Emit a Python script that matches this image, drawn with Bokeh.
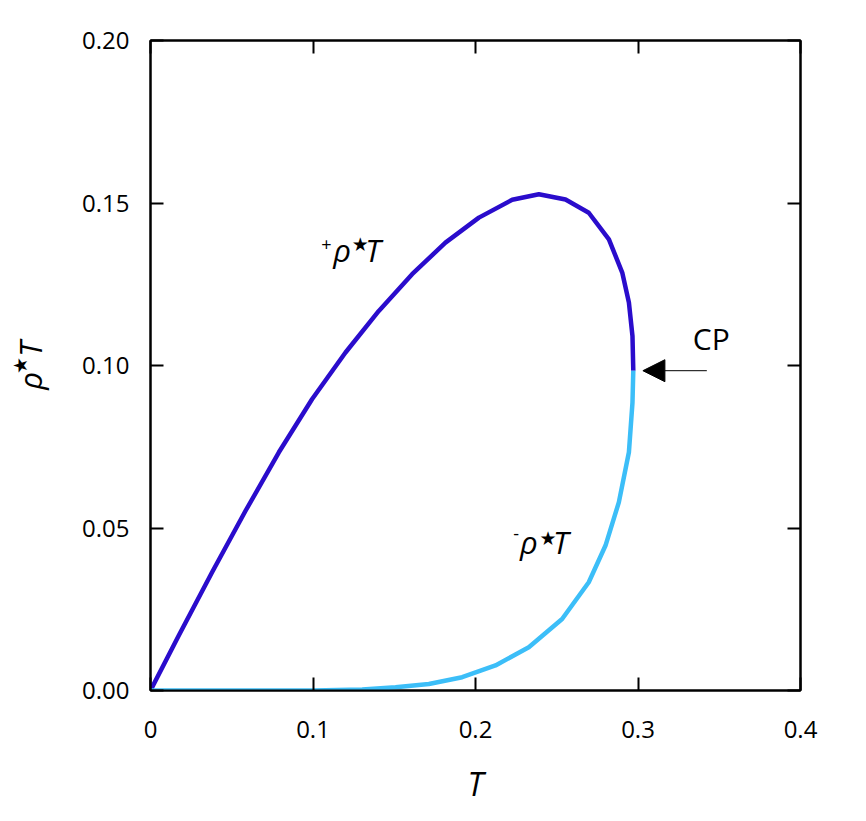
import math
from bokeh.plotting import figure
from bokeh.models import Range1d, LinearAxis, FixedTicker, Label, Arrow, NormalHead, CustomJSTickFormatter
from bokeh.embed import file_html
from bokeh.resources import INLINE

# ---- data ----
upper_T = [0.0, 0.0174, 0.0379, 0.0585, 0.0790, 0.0995, 0.1200, 0.1405, 0.1610, 0.1815,
           0.2021, 0.2226, 0.2390, 0.2554, 0.2697, 0.2821, 0.2903, 0.2944, 0.2966, 0.2971]
upper_rho = [0.0, 0.0169, 0.0364, 0.0553, 0.0733, 0.0897, 0.1040, 0.1168, 0.1281, 0.1378,
             0.1455, 0.1510, 0.1527, 0.1511, 0.1470, 0.1388, 0.1286, 0.1194, 0.1091, 0.0984]

lower_T = [0.0, 0.05, 0.10, 0.1303, 0.1508, 0.1713, 0.1918, 0.2123, 0.2328, 0.2533,
           0.2697, 0.2800, 0.2882, 0.2944, 0.2966, 0.2971]
lower_rho = [0.0, 0.0, 0.0, 0.0003, 0.0010, 0.0020, 0.0041, 0.0077, 0.0133, 0.0220,
             0.0333, 0.0446, 0.0579, 0.0733, 0.0886, 0.0984]

cp_T = [0.2971]
cp_rho = [0.0984]

x_ticks = [0.0, 0.1, 0.2, 0.3, 0.4]
x_tick_labels = ["0", "0.1", "0.2", "0.3", "0.4"]
y_ticks = [0.0, 0.05, 0.10, 0.15, 0.20]
y_tick_labels = ["0.00", "0.05", "0.10", "0.15", "0.20"]

UPPER_COLOR = "#2a0ccc"
LOWER_COLOR = "#3cbef8"
FONT = "Open Sans"

p = figure(width=850, height=810, x_range=Range1d(0, 0.4), y_range=Range1d(0, 0.2),
           output_backend="svg", toolbar_location=None,
           min_border_left=150, min_border_right=50, min_border_top=40, min_border_bottom=120)
p.xgrid.visible = False
p.ygrid.visible = False
p.outline_line_color = "black"
p.outline_line_width = 2
p.background_fill_color = "white"
p.border_fill_color = "white"

def style_axis(ax, ticks, labels, show_labels, standoff):
    ax.ticker = FixedTicker(ticks=ticks)
    ax.axis_line_width = 2
    ax.axis_line_color = "black"
    ax.major_tick_line_width = 2
    ax.major_tick_line_color = "black"
    ax.major_tick_in = 13
    ax.major_tick_out = 0
    ax.minor_tick_line_color = None
    ax.major_label_text_font = FONT
    ax.major_label_text_font_size = "24px"
    ax.major_label_text_color = "black"
    ax.major_label_standoff = standoff
    if show_labels:
        ax.major_label_overrides = {t: l for t, l in zip(ticks, labels)}
    else:
        ax.formatter = CustomJSTickFormatter(code="return ''")

style_axis(p.xaxis[0], x_ticks, x_tick_labels, True, 30)
style_axis(p.yaxis[0], y_ticks, y_tick_labels, True, 21)

# axis titles
p.xaxis[0].axis_label = "T"
p.xaxis[0].axis_label_text_font = FONT
p.xaxis[0].axis_label_text_font_size = "32px"
p.xaxis[0].axis_label_text_font_style = "italic"
p.xaxis[0].axis_label_text_color = "black"
p.xaxis[0].axis_label_standoff = 21

p.yaxis[0].axis_label = "ρ\u2002T"
p.yaxis[0].axis_label_text_font = FONT
p.yaxis[0].axis_label_text_font_size = "31px"
p.yaxis[0].axis_label_text_font_style = "italic"
p.yaxis[0].axis_label_text_color = "black"
p.yaxis[0].axis_label_standoff = 28

top = LinearAxis()
right = LinearAxis()
style_axis(top, x_ticks, x_tick_labels, False, 0)
style_axis(right, y_ticks, y_tick_labels, False, 0)
p.add_layout(top, "above")
p.add_layout(right, "right")

# extra label-only axis carrying the superscript star of the y title
star_axis = LinearAxis(ticker=FixedTicker(ticks=[]), axis_line_color=None,
                       major_tick_line_color=None, minor_tick_line_color=None,
                       major_label_text_font_size="0px",
                       axis_label="★", axis_label_text_font="DejaVu Sans",
                       axis_label_text_font_size="19px", axis_label_text_font_style="normal",
                       axis_label_text_color="black", axis_label_standoff=-24)
p.add_layout(star_axis, "left")

p.line(upper_T, upper_rho, line_color=UPPER_COLOR, line_width=4.5, line_join="round")
p.line(lower_T, lower_rho, line_color=LOWER_COLOR, line_width=4.5, line_join="round")

# page pixel -> data helper for annotation placement
X0, XS = 150.0, 1627.0
Y0, YS = 690.0, 3254.0
BASE_SHIFT = 13  # correction for alphabetic baseline placement
def dx(px):
    return (px - X0) / XS
def dy(py):
    return (Y0 - py) / YS

def lab(text, px, py, size, style="normal", font=FONT, align="left", baseline="alphabetic", angle=0.0):
    if baseline == "alphabetic":
        py = py - BASE_SHIFT
    p.add_layout(Label(x=dx(px), y=dy(py), text=text, text_font=font, text_font_size=size,
                       text_font_style=style, text_align=align, text_baseline=baseline,
                       text_color="black", angle=angle))

# +rho*T label
lab("+", 326, 243, "18px", align="center", baseline="middle")
lab("ρ", 333, 262, "31px", style="italic")
lab("★", 360, 243, "19px", font="DejaVu Sans", align="center", baseline="middle")
lab("T", 365, 262, "31px", style="italic")

# -rho*T label
lab("-", 516, 533, "18px", align="center", baseline="middle")
lab("ρ", 520, 554, "31px", style="italic")
lab("★", 548, 537, "19px", font="DejaVu Sans", align="center", baseline="middle")
lab("T", 553, 554, "31px", style="italic")

# CP label and arrow
lab("CP", 693, 351, "30px")
p.add_layout(Arrow(x_start=dx(707), y_start=cp_rho[0], x_end=dx(643), y_end=cp_rho[0],
                   line_color="black", line_width=1,
                   end=NormalHead(size=22, fill_color="black", line_color="black")))

open("out.html", "w").write(file_html(p, INLINE))
